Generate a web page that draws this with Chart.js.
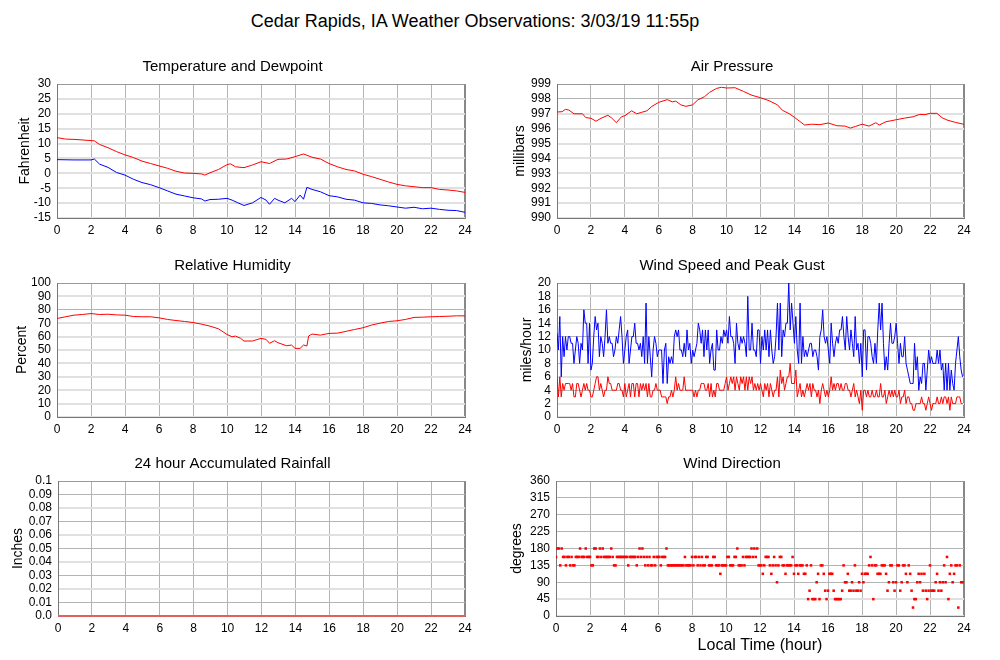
<!DOCTYPE html>
<html>
<head>
<meta charset="utf-8">
<script src="https://cdn.jsdelivr.net/npm/chart.js@4.4.1/dist/chart.umd.min.js"></script>
<style>
  body { margin: 0; background: #fff; }
  #page { position: relative; width: 1000px; height: 660px; background: #fff; overflow: hidden; }
  #mainTitle { position: absolute; left: 0; top: 10px; width: 950px; text-align: center;
    font: 18px 'Liberation Sans', Arial, sans-serif; color: #000; line-height: 22px; }
  canvas { position: absolute; }
</style>
</head>
<body>
<div id="page">
  <div id="mainTitle">Cedar Rapids, IA Weather Observations: 3/03/19 11:55p</div>
  <canvas id="tempChart" width="480" height="200" style="left:0;top:50px"></canvas>
  <canvas id="pressChart" width="480" height="200" style="left:500px;top:50px"></canvas>
  <canvas id="rhChart" width="480" height="200" style="left:0;top:250px"></canvas>
  <canvas id="windChart" width="480" height="200" style="left:500px;top:250px"></canvas>
  <canvas id="rainChart" width="480" height="210" style="left:0;top:450px"></canvas>
  <canvas id="dirChart" width="480" height="210" style="left:500px;top:450px"></canvas>
</div>
<script>
// temperature / dewpoint (hour of day, deg F)
const tempHours = [0,0.5,1,2,2.2,2.5,3,3.5,4,4.5,5,5.5,6,6.5,7,7.5,8,8.5,8.7,9,9.5,10,10.2,10.5,11,11.5,12,12.5,13,13.5,14,14.5,15,15.5,16,16.5,17,17.5,18,18.5,19,19.5,20,20.5,21,21.5,22,22.5,23,23.5,24];
const tempF = [12.0,11.5,11.4,11.0,10.9,9.7,8.6,7.3,6.2,5.3,4.1,3.3,2.5,1.7,0.7,0.1,0.0,-0.2,-0.6,0.2,1.3,2.9,3.2,2.2,1.9,2.8,3.9,3.3,4.7,4.8,5.6,6.5,5.4,4.8,3.3,2.2,1.3,0.8,-0.3,-1.1,-2.0,-2.9,-3.7,-4.2,-4.5,-4.8,-4.8,-5.4,-5.6,-5.9,-6.4];
const dewHours = [0,1,2,2.2,2.5,3,3.5,4,4.5,5,5.5,6,6.5,7,7.5,8,8.5,8.7,9,9.5,10,10.3,10.6,11,11.5,12,12.3,12.5,12.8,13,13.4,13.8,14,14.3,14.5,14.7,15,15.5,16,16.5,17,17.5,18,18.5,19,19.5,20,20.5,21,21.5,22,22.5,23,23.5,24];
const dewF = [4.6,4.5,4.5,4.8,3.1,2.0,0.3,-0.6,-2.0,-3.1,-3.8,-4.8,-5.9,-7.0,-7.6,-8.2,-8.6,-9.3,-8.8,-8.7,-8.4,-9.0,-9.8,-10.8,-9.9,-8.1,-9.0,-10.4,-8.4,-9.0,-9.9,-8.4,-9.5,-7.3,-8.7,-4.7,-5.4,-6.2,-7.5,-7.9,-8.7,-9.0,-9.9,-10.1,-10.6,-10.9,-11.3,-11.7,-11.4,-11.9,-11.7,-12.1,-12.4,-12.5,-13.1];

// air pressure (mb)
const pressHours = [0,0.3,0.5,0.7,1,1.5,1.7,2,2.3,2.6,3,3.2,3.5,3.8,4,4.4,4.7,5,5.3,5.6,6,6.5,6.8,7,7.3,7.6,8,8.3,8.7,9,9.4,9.7,10,10.5,11,11.5,12,12.5,13,13.3,13.7,14,14.3,14.6,15,15.5,16,16.5,17,17.3,17.6,18,18.4,18.8,19,19.4,19.7,20,20.5,21,21.4,21.7,22,22.4,22.7,23,23.5,24];
const pressMb = [997.12,997.14,997.3,997.25,997.0,997.0,996.74,996.7,996.5,996.7,996.9,996.74,996.4,996.8,996.87,997.2,997.0,997.1,997.2,997.5,997.77,997.95,997.8,997.85,997.6,997.5,997.6,997.93,998.15,998.44,998.7,998.78,998.73,998.75,998.5,998.24,998.08,997.88,997.6,997.23,997.0,996.76,996.5,996.24,996.3,996.27,996.38,996.2,996.17,996.04,996.15,996.3,996.17,996.4,996.24,996.47,996.53,996.6,996.71,996.8,996.96,996.94,997.03,997.03,996.74,996.58,996.42,996.29];

// relative humidity (%)
const rhHours = [0,0.5,1,1.5,2,2.5,3,3.5,4,4.5,5,5.5,6,6.5,7,7.5,8,8.5,9,9.5,10,10.3,10.5,10.8,11,11.5,12,12.3,12.5,12.8,13,13.5,13.8,14,14.3,14.5,14.7,14.8,15,15.5,16,16.5,17,17.5,18,18.5,19,19.5,20,20.5,21,21.5,22,22.5,23,23.5,24];
const rhPct = [73.5,74.8,76.0,76.5,77.2,76.5,76.7,76.2,76.0,75.0,74.8,74.8,74.0,72.8,72.0,71.3,70.5,69.3,67.8,65.8,61.6,59.9,60.4,58.7,56.7,56.7,58.7,57.9,55.0,56.9,55.4,53.2,53.7,51.2,51.2,53.7,53.0,60.4,61.9,61.1,62.4,62.6,63.9,65.3,66.6,68.6,70.0,71.3,71.8,72.8,74.3,74.5,74.8,75.0,75.2,75.5,75.5];

// 5-minute wind obs, one row per hour
const gustMph = [
  12.5,10,15,6,12,9,12,10,12,12,11,11,
  8,10,12,11,8,11,10,16,14,14,8,14,
  7,8,12,15,13,14,9,12,11,9,12,16,
  11,12,11,11,9,10,12,11,13,15,12,8,
  10,12,13,8,10,12,12,14,11,11,10,11,
  9,12,8,17,8,12,9,6,10,12,11,9,
  10,10,10,5,10,11,5,9,8,9,8,12,
  13,12,13,10,10,9,11,9,13,10,11,8,
  10,9,10,11,14,13,11,13,9,13,10,13,
  8,10,11,7,7,13,10,10,12,11,13,12,
  13,11,15,12,12,11,8,14,11,10,12,11,
  12,11,9,18,10,10,14,10,10,9,13,13,
  8,12,10,13,10,13,9,13,10,8,9,12,
  17,10,17,9,13,12,14,14,20,13,17,14,
  11,15,10,8,17,8,12,9,10,9,10,11,
  11,9,10,10,9,7,12,13,16,12,11,12,
  10,8,14,11,9,11,12,11,13,13,15,12,
  10,15,12,10,13,11,9,15,10,11,8,11,
  6,13,13,7,12,12,11,9,8,11,8,13,
  17,13,17,11,7,9,7,11,14,11,11,12,
  14,11,8,11,9,9,12,8,7,6,5,5,
  5,11,7,9,4,6,5,8,8,4,7,10,
  8,9,8,8,8,10,8,10,7,8,4,8,
  4,8,4,7,5,4,8,10,12,9,7,6
];
const speedMph = [
  6,3,6,3,5,4,5,5,5,5,4,5,
  3,3,5,5,4,3,4,5,4,5,4,4,
  3,3,4,5,6,6,4,5,4,3,4,4,
  6,5,5,4,4,4,4,5,5,4,4,3,
  5,3,4,5,3,5,5,3,5,5,3,5,
  4,5,4,5,3,5,3,3,4,4,5,4,
  4,4,3,3,3,3,2,3,3,4,3,4,
  6,4,5,4,4,4,6,4,4,4,4,4,
  4,3,4,3,4,4,5,5,5,4,4,5,
  3,5,3,4,3,5,5,4,4,4,4,5,
  6,4,5,6,5,6,4,6,5,4,6,5,
  6,4,6,4,6,5,6,4,5,4,5,4,
  5,4,3,5,4,5,3,5,4,3,4,4,
  6,3,7,5,6,4,5,6,6,8,5,5,
  5,7,3,4,5,3,4,3,4,5,4,5,
  3,5,4,4,3,4,2,4,5,4,3,4,
  3,4,6,4,5,4,5,5,4,5,4,4,
  5,5,4,4,3,4,5,3,4,3,2,4,
  1,4,4,3,4,3,3,4,3,3,4,3,
  3,5,3,3,4,2,3,4,3,4,3,4,
  3,3,4,2,3,3,4,2,3,3,2,2,
  1,1,2,2,2,2,3,2,2,1,2,3,
  2,1,2,2,2,3,2,2,3,2,3,3,
  2,3,1,3,2,2,2,3,3,3,2,2
];
const dirDeg = [
  157.5,180,180,135,180,157.5,157.5,135,157.5,157.5,135,157.5,
  135,135,157.5,157.5,157.5,180,157.5,157.5,157.5,180,157.5,157.5,
  157.5,135,135,180,180,157.5,157.5,180,157.5,180,157.5,157.5,
  157.5,157.5,157.5,180,157.5,135,135,157.5,157.5,157.5,157.5,157.5,
  157.5,157.5,157.5,135,157.5,157.5,157.5,157.5,157.5,135,157.5,180,
  157.5,180,157.5,135,157.5,135,157.5,135,135,157.5,135,157.5,
  157.5,157.5,135,157.5,157.5,157.5,180,135,135,135,135,135,
  135,135,135,135,135,135,135,157.5,135,135,135,135,
  157.5,135,157.5,157.5,135,157.5,135,157.5,135,135,157.5,157.5,
  135,135,135,157.5,157.5,135,135,135,112.5,135,135,135,
  135,157.5,157.5,135,135,135,157.5,157.5,180,135,135,135,
  157.5,135,157.5,157.5,157.5,157.5,180,157.5,180,157.5,180,135,
  135,135,112.5,135,157.5,157.5,157.5,135,112.5,135,157.5,135,
  90,135,157.5,157.5,135,135,112.5,135,135,135,135,157.5,
  112.5,135,135,112.5,135,135,135,112.5,112.5,135,45,67.5,
  135,45,45,45,90,112.5,45,135,135,112.5,67.5,45,
  67.5,112.5,112.5,112.5,67.5,45,45,45,45,45,67.5,135,
  90,90,112.5,67.5,67.5,90,67.5,135,67.5,67.5,90,67.5,
  112.5,90,112.5,112.5,112.5,135,157.5,135,45,135,135,112.5,
  112.5,112.5,135,135,135,112.5,67.5,90,135,135,90,67.5,
  90,135,135,67.5,90,135,135,112.5,90,135,112.5,67.5,
  22.5,45,45,90,112.5,90,112.5,67.5,112.5,67.5,45,67.5,
  135,67.5,67.5,67.5,90,112.5,67.5,90,67.5,90,135,90,
  157.5,45,112.5,135,90,112.5,135,135,22.5,135,90,90
];
const obsHours = gustMph.map((_, i) => i / 12);

// rainfall (inches)
const rainHours = [0, 24];
const rainIn = [0, 0];
const rainTickLabels = ['0.0','0.01','0.02','0.03','0.04','0.05','0.06','0.07','0.08','0.09','0.1'];

Chart.defaults.font.family = "'Liberation Sans', Arial, Helvetica, sans-serif";
Chart.defaults.color = '#000';

function pts(xs, ys) {
    return xs.map((x, i) => ({ x: x, y: ys[i] }));
}

function near(a, b) {
    return Math.abs(a - b) < 1e-7;
}

function buildOptions(cfg) {
    const xScale = {
        type: 'linear',
        min: 0,
        max: 24,
        ticks: { stepSize: 2, padding: 5, font: { size: 12 }, maxRotation: 0, autoSkip: false },
        grid: {
            drawTicks: false,
            color: (c) => c.tick.value === 24 ? '#888' : '#b4b4b4',
            lineWidth: (c) => c.tick.value === 24 ? 2 : 1
        },
        border: { color: '#777' },
        afterFit: (s) => { s.height = cfg.xHeight; }
    };
    if (cfg.xTitle) {
        xScale.title = { display: true, text: cfg.xTitle, font: { size: 16 }, padding: { top: 0, bottom: 5 } };
    }
    const yTicks = { stepSize: cfg.yStep, padding: 6, font: { size: 12 }, autoSkip: false };
    if (cfg.yLabels) {
        yTicks.callback = (v, i) => cfg.yLabels[i];
    }
    return {
        responsive: false,
        animation: false,
        events: [],
        layout: { padding: { right: cfg.padRight } },
        plugins: {
            legend: { display: false },
            tooltip: { enabled: false },
            title: {
                display: true,
                text: cfg.title,
                font: { size: 15, weight: 'normal' },
                padding: { top: cfg.titleTop, bottom: 8 }
            }
        },
        scales: {
            x: xScale,
            y: {
                min: cfg.yMin,
                max: cfg.yMax,
                ticks: yTicks,
                title: { display: true, text: cfg.yTitle, font: { size: 14 }, padding: { top: cfg.yTitlePad, bottom: 0 } },
                grid: {
                    drawTicks: false,
                    color: (c) => {
                        const v = c.tick.value;
                        if (near(v, cfg.yMax)) return '#999';
                        if (cfg.darkY.some(d => near(d, v))) return '#b4b4b4';
                        return '#e0e0e0';
                    },
                    lineWidth: (c) => {
                        const v = c.tick.value;
                        if (near(v, cfg.yMax) || cfg.darkY.some(d => near(d, v))) return 1;
                        return 2;
                    }
                },
                border: { color: '#777' },
                afterFit: (s) => { s.width = cfg.yWidth; }
            }
        }
    };
}

function lineSet(data, color) {
    return { data: data, borderColor: color, borderWidth: 1, pointRadius: 0, tension: 0, fill: false };
}

new Chart(document.getElementById('tempChart'), {
    type: 'line',
    data: { datasets: [lineSet(pts(tempHours, tempF), '#ff0000'), lineSet(pts(dewHours, dewF), '#0000ff')] },
    options: buildOptions({ title: 'Temperature and Dewpoint', titleTop: 8, yMin: -15, yMax: 30, yStep: 5,
        yTitle: 'Fahrenheit', yTitlePad: 17, yWidth: 57, xHeight: 32, padRight: 15, darkY: [] })
});

new Chart(document.getElementById('pressChart'), {
    type: 'line',
    data: { datasets: [lineSet(pts(pressHours, pressMb), '#ff0000')] },
    options: buildOptions({ title: 'Air Pressure', titleTop: 8, yMin: 990, yMax: 999, yStep: 1,
        yTitle: 'millibars', yTitlePad: 12, yWidth: 57, xHeight: 32, padRight: 16, darkY: [998] })
});

new Chart(document.getElementById('rhChart'), {
    type: 'line',
    data: { datasets: [lineSet(pts(rhHours, rhPct), '#ff0000')] },
    options: buildOptions({ title: 'Relative Humidity', titleTop: 7, yMin: 0, yMax: 100, yStep: 10,
        yTitle: 'Percent', yTitlePad: 14, yWidth: 57, xHeight: 33, padRight: 15, darkY: [80] })
});

new Chart(document.getElementById('windChart'), {
    type: 'line',
    data: { datasets: [lineSet(pts(obsHours, gustMph), '#0000ff'), lineSet(pts(obsHours, speedMph), '#ff0000')] },
    options: buildOptions({ title: 'Wind Speed and Peak Gust', titleTop: 7, yMin: 0, yMax: 20, yStep: 2,
        yTitle: 'miles/hour', yTitlePad: 19, yWidth: 57, xHeight: 33, padRight: 16, darkY: [16, 12, 8, 4] })
});

new Chart(document.getElementById('rainChart'), {
    type: 'line',
    data: { datasets: [Object.assign(lineSet(pts(rainHours, rainIn), '#e06060'), { borderWidth: 2, clip: 3 })] },
    options: buildOptions({ title: '24 hour Accumulated Rainfall', titleTop: 5, yMin: 0, yMax: 0.1, yStep: 0.01,
        yLabels: rainTickLabels, yTitle: 'Inches', yTitlePad: 10, yWidth: 58, xHeight: 44, padRight: 15,
        darkY: [0.09, 0.07, 0.05, 0.03, 0.01] })
});

new Chart(document.getElementById('dirChart'), {
    type: 'scatter',
    data: { datasets: [{ data: pts(obsHours, dirDeg), backgroundColor: '#ff0000', borderWidth: 0,
        pointStyle: 'rect', pointRadius: 1.8, showLine: false }] },
    options: buildOptions({ title: 'Wind Direction', titleTop: 5, yMin: 0, yMax: 360, yStep: 45,
        yTitle: 'degrees', yTitlePad: 9, yWidth: 56, xHeight: 44, padRight: 16, xTitle: 'Local Time (hour)',
        darkY: [315, 270, 225, 180, 135, 90] })
});
</script>
</body>
</html>
